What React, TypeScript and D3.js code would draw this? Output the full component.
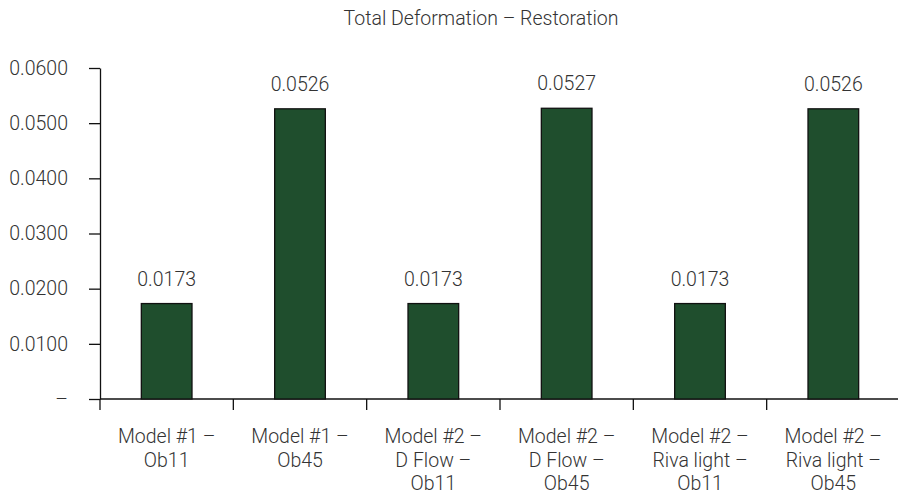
import * as d3 from "d3";
import { useEffect, useRef } from "react";

const categories = [
  ["Model #1 –", "Ob11"],
  ["Model #1 –", "Ob45"],
  ["Model #2 –", "D Flow –", "Ob11"],
  ["Model #2 –", "D Flow –", "Ob45"],
  ["Model #2 –", "Riva light –", "Ob11"],
  ["Model #2 –", "Riva light –", "Ob45"],
];
const values = [0.0173, 0.0526, 0.0173, 0.0527, 0.0173, 0.0526];
const yTicks = [0, 0.01, 0.02, 0.03, 0.04, 0.05, 0.06];
const title = "Total Deformation – Restoration";

const svgWidth = 898,
  svgHeight = 497;
const margin = { top: 68, right: -2, bottom: 98, left: 100 };
const width = svgWidth - margin.left - margin.right,
  height = svgHeight - margin.top - margin.bottom;

const FONT = "Roboto, sans-serif";
const FS = 19.5;
const TEXT = "#333";
const BAR = "#1f4e2d";

export default function App() {
  const containerRef = useRef<SVGGElement>(null);

  useEffect(() => {
    const container = d3.select(containerRef.current);
    container.selectAll("*").remove();

    const keys = categories.map((c) => c.join(" "));
    const x = d3.scaleBand().domain(keys).range([0, width]);
    const y = d3.scaleLinear().domain([0, 0.06]).range([height, 0]);
    const barW = x.bandwidth() * 0.38;

    // title
    container
      .append("text")
      .attr("x", 381)
      .attr("y", 25 - margin.top)
      .attr("text-anchor", "middle")
      .attr("font-family", FONT)
      .attr("font-weight", 300)
      .attr("font-size", FS)
      .attr("fill", TEXT)
      .text(title);

    // y axis
    const yAxis = container
      .append("g")
      .call(
        d3
          .axisLeft(y)
          .tickValues(yTicks)
          .tickSize(11)
          .tickPadding(21)
          .tickSizeOuter(0)
          .tickFormat((d: any) => (d === 0 ? "–" : d3.format(".4f")(d)))
      );
    yAxis.select(".domain").attr("stroke", "#111").attr("stroke-width", 1.3);
    yAxis.selectAll(".tick line").attr("stroke", "#111").attr("stroke-width", 1.3);
    yAxis
      .selectAll(".tick text")
      .attr("font-family", FONT)
      .attr("font-weight", 300)
      .attr("font-size", FS)
      .attr("fill", TEXT);

    // x axis baseline + boundary ticks
    const xAxis = container.append("g").attr("transform", `translate(0, ${height})`);
    xAxis
      .append("line")
      .attr("x1", 0)
      .attr("x2", width)
      .attr("stroke", "#111")
      .attr("stroke-width", 1.3);
    xAxis
      .selectAll("line.bound")
      .data(keys)
      .join("line")
      .attr("class", "bound")
      .attr("x1", (d) => x(d))
      .attr("x2", (d) => x(d))
      .attr("y1", 0)
      .attr("y2", 11)
      .attr("stroke", "#111")
      .attr("stroke-width", 1.3);

    // category labels
    const labels = xAxis
      .selectAll("text.cat")
      .data(categories)
      .join("text")
      .attr("class", "cat")
      .attr("text-anchor", "middle")
      .attr("font-family", FONT)
      .attr("font-weight", 300)
      .attr("font-size", FS)
      .attr("fill", TEXT)
      .attr("transform", (d) => `translate(${x(d.join(" "))! + x.bandwidth() / 2}, 44)`);
    labels
      .selectAll("tspan")
      .data((d) => d)
      .join("tspan")
      .attr("x", 0)
      .attr("y", (d, i) => i * 23.5)
      .text((d) => d);

    // bars
    const data = keys.map((k, i) => ({ key: k, value: values[i] }));
    container
      .append("g")
      .selectAll("rect")
      .data(data)
      .join("rect")
      .attr("x", (d) => x(d.key)! + (x.bandwidth() - barW) / 2)
      .attr("y", (d) => y(d.value))
      .attr("width", barW)
      .attr("height", (d) => height - y(d.value))
      .attr("fill", BAR)
      .attr("stroke", "#111")
      .attr("stroke-width", 1.3);

    // value labels
    container
      .append("g")
      .selectAll("text")
      .data(data)
      .join("text")
      .attr("x", (d) => x(d.key)! + x.bandwidth() / 2)
      .attr("y", (d) => y(d.value) - 18)
      .attr("text-anchor", "middle")
      .attr("font-family", FONT)
      .attr("font-weight", 300)
      .attr("font-size", FS)
      .attr("fill", TEXT)
      .text((d) => d.value.toFixed(4));
  }, []);

  return (
    <svg
      width={svgWidth}
      height={svgHeight}
      style={{ position: "absolute", left: 0, top: 0, background: "#fff" }}
    >
      <g ref={containerRef} transform={`translate(${margin.left},${margin.top})`}></g>
    </svg>
  );
}
